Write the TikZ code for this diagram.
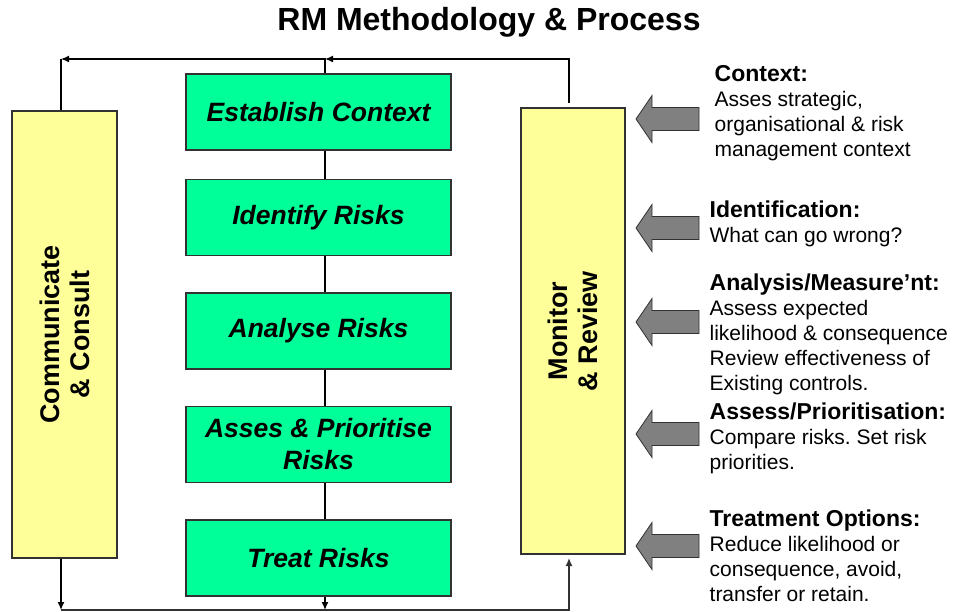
\documentclass[tikz,border=0pt]{standalone}
\usepackage{fontspec}
\setmainfont{Liberation Sans}
\usetikzlibrary{arrows.meta}
\frenchspacing

\definecolor{stepgreen}{RGB}{0,255,153}
\definecolor{notepad}{RGB}{255,255,153}
\definecolor{arrowgray}{RGB}{128,128,128}
\definecolor{edge}{RGB}{50,50,50}

\newcommand{\notehead}[1]{{\fontsize{23}{25}\selectfont\bfseries #1}}

\begin{document}
\begin{tikzpicture}[x=1pt, y=-1pt, >={Latex[length=8pt,width=7pt]}, line width=1.3pt,
    stage/.style={draw=edge, fill=stepgreen, minimum width=265pt, minimum height=76pt,
        align=center, font=\fontsize{26.5}{32}\selectfont\bfseries\itshape},
    side/.style={draw=edge, fill=notepad, rotate=90, align=center,
        font=\fontsize{27}{30}\selectfont\bfseries},
    note/.style={anchor=north west, align=left, inner sep=0pt,
        font=\fontsize{21}{25}\selectfont}]
    \useasboundingbox (0,0) rectangle (957,612);

    % Title
    \node (title) at (489,22) {\fontsize{32}{36}\selectfont\bfseries RM Methodology \& Process};

    % Process steps
    \node[stage] (context)  at (318.5,112)   {Establish Context};
    \node[stage] (identify) at (318.5,217.5) {Identify Risks};
    \node[stage] (analyse)  at (318.5,331)   {Analyse Risks};
    \node[stage] (assess)   at (318.5,444.5) {Asses \& Prioritise\\Risks};
    \node[stage] (treat)    at (318.5,558)   {Treat Risks};

    % Side boxes
    \node[side, minimum width=447pt, minimum height=105pt] (consult) at (64.5,334.5) {Communicate\\\& Consult};
    \node[side, minimum width=446pt, minimum height=104pt] (monitor) at (573,331) {Monitor\\\& Review};

    % Loop corners
    \coordinate (tl) at (61,59);
    \coordinate (tm) at (325,59);
    \coordinate (bl) at (61,610);
    \coordinate (bm) at (325,610);
    \coordinate (mtop) at (569,103);
    \coordinate (mbot) at (569,558);

    % Top return
    \draw[->] (mtop) |- (tm);
    \draw[->] (context.north -| tm) -- (tm) -- (tl);
    \draw (tl) -- (tl |- consult.east);

    % Spine
    \foreach \a/\b in {context/identify, identify/analyse, analyse/assess, assess/treat}
        \draw (\a.south -| tm) -- (\b.north -| tm);

    % Bottom return
    \draw[->] (tl |- consult.west) -- (bl);
    \draw[->] (treat.south -| tm) -- (bm);
    \draw[->, draw=edge] (bl) -| (mbot);

    % Input arrows
    \foreach \y in {119,228,322,434,546}
        \draw[fill=arrowgray, draw=edge, line width=0.8pt]
            (636,\y) -- (652,\y-23.5) -- (652,\y-11.5) -- (699,\y-11.5)
            -- (699,\y+11.5) -- (652,\y+11.5) -- (652,\y+23.5) -- cycle;

    % Notes
    \node[note] (ctxnote) at (714,65) {\notehead{Context:}\\Asses strategic,\\organisational \& risk\\management context};
    \node[note] (idnote) at (709,200) {\notehead{Identification:}\\What can go wrong?};
    \node[note] (annote) at (709,273) {\notehead{Analysis/Measure’nt:}\\Assess expected\\likelihood \& consequence\\Review effectiveness of\\Existing controls.};
    \node[note] (asnote) at (709,402) {\notehead{Assess/Prioritisation:}\\Compare risks. Set risk\\priorities.};
    \node[note] (trnote) at (709,509) {\notehead{Treatment Options:}\\Reduce likelihood or\\consequence, avoid,\\transfer or retain.};
\end{tikzpicture}
\end{document}
